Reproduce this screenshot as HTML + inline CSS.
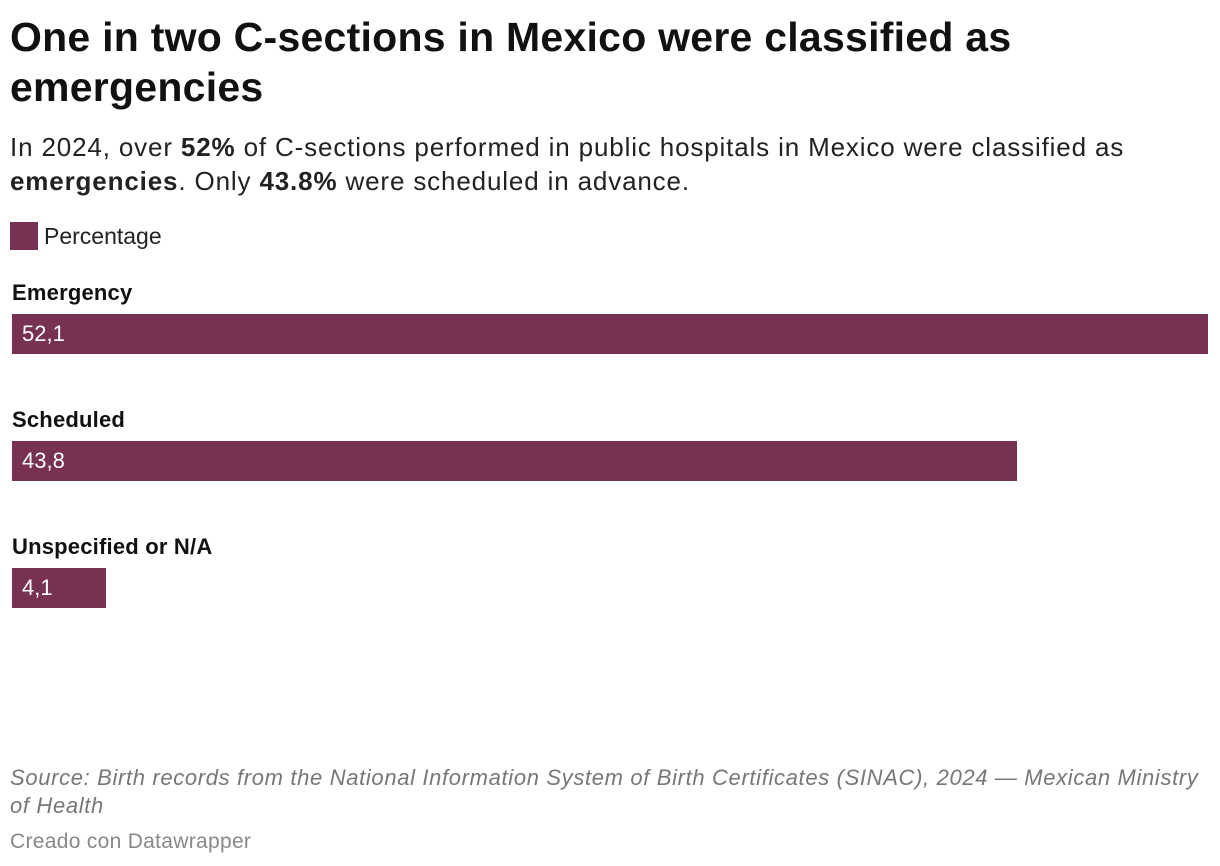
<!DOCTYPE html>
<html><head><meta charset="utf-8"><style>
body{margin:0;width:1220px;height:866px;background:#fff;font-family:"Liberation Sans",sans-serif;color:#111;position:relative;overflow:hidden}
.abs{position:absolute;white-space:nowrap}
#title{left:10px;top:12px;font-size:41px;font-weight:bold;line-height:50px;letter-spacing:0.25px}
#sub{left:10px;top:130px;font-size:26px;line-height:34px;color:#222;letter-spacing:0.85px}
#legend{left:10px;top:222px;font-size:23px;line-height:28px;color:#222}
#legend span.sw{display:inline-block;width:28px;height:28px;background:#773152;vertical-align:top;margin-right:6px}
.lbl{left:12px;font-size:22px;font-weight:bold;color:#111;letter-spacing:0.2px}
.bar{position:absolute;left:12px;height:40px;background:#773152}
.val{position:absolute;left:10px;top:7px;color:#fff;font-size:22px}
#src{left:10px;top:764px;font-size:22px;font-style:italic;color:#777;line-height:28px;letter-spacing:0.65px}
#credit{left:10px;top:830px;font-size:21px;color:#888;letter-spacing:0.3px}
</style></head><body>
<div id="title" class="abs">One in two C-sections in Mexico were classified as<br>emergencies</div>
<div id="sub" class="abs">In 2024, over <b>52%</b> of C-sections performed in public hospitals in Mexico were classified as<br><b>emergencies</b>. Only <b>43.8%</b> were scheduled in advance.</div>
<div id="legend" class="abs"><span class="sw"></span>Percentage</div>
<div id="chart"></div>
<div id="src" class="abs">Source: Birth records from the National Information System of Birth Certificates (SINAC), 2024 — Mexican Ministry<br>of Health</div>
<div id="credit" class="abs">Creado con Datawrapper</div>
<script>
const categories=["Emergency","Scheduled","Unspecified or N/A"];
const values=[52.1,43.8,4.1];
const labels=["52,1","43,8","4,1"];
const maxV=52.1, plotW=1196, top0=314, step=127;
function xs(v){return v/maxV*plotW;}
const c=document.getElementById('chart');
categories.forEach((cat,i)=>{
  const y=top0+i*step;
  const l=document.createElement('div');
  l.className='abs lbl';l.style.top=(y-34)+'px';l.textContent=cat;
  
  
  c.appendChild(l);
  const b=document.createElement('div');
  b.className='bar';b.style.top=y+'px';b.style.width=xs(values[i])+'px';
  
  
  const t=document.createElement('span');t.className='val';t.textContent=labels[i];
  
  
  b.appendChild(t);c.appendChild(b);
});
</script>
</body></html>
